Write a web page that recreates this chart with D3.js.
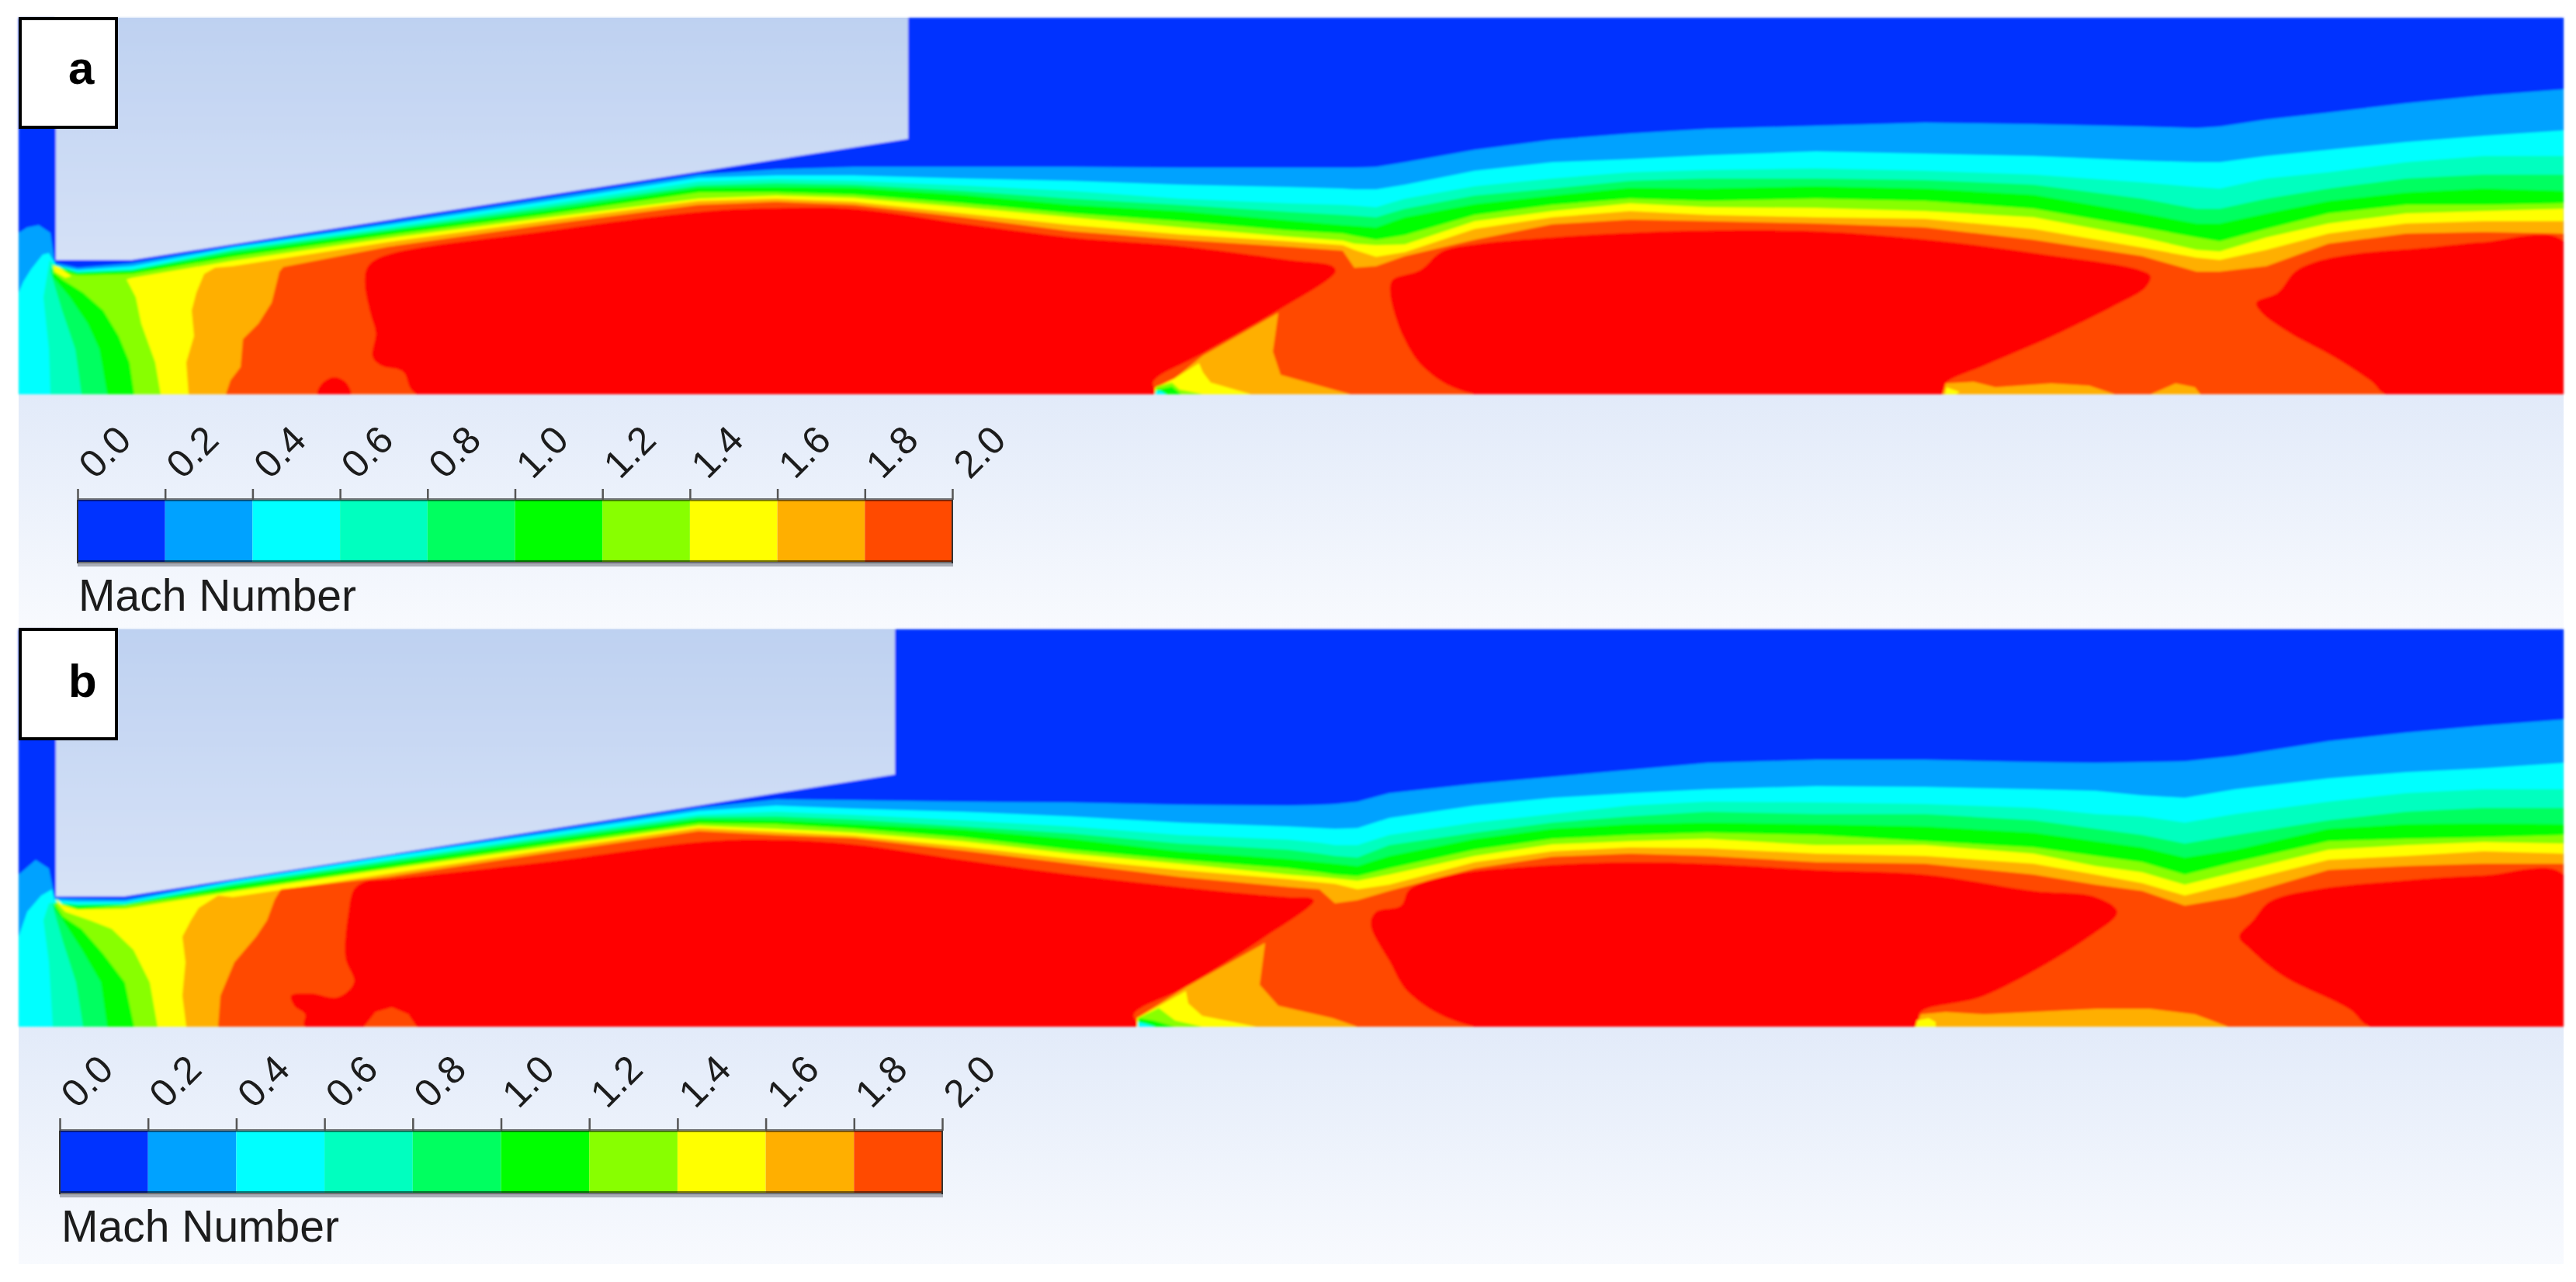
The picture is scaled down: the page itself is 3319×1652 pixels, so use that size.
<!DOCTYPE html>
<html>
<head>
<meta charset="utf-8">
<script src="https://cdn.jsdelivr.net/npm/d3@7"></script>
<style>html,body{margin:0;padding:0;background:#fff}svg{display:block}</style>
</head>
<body>
<div id="chart"></div>
<script>
// Legend
const machTicks = [0.0,0.2,0.4,0.6,0.8,1.0,1.2,1.4,1.6,1.8,2.0];
const machLevels = [0.0,0.2,0.4,0.6,0.8,1.0,1.2,1.4,1.6,1.8];
const machColors = ["#0033ff","#00a2ff","#00ffff","#00ffbf","#00ff60","#00ff00","#88ff00","#ffff00","#ffaf00","#ff4a00"];
const machTop = "#ff0000";
const legendTitle = "Mach Number";

// ---- Case a: contours read in grid units of the field ----
const stationsA = [100,170,300,500,700,900,1000,1100,1240,1380,1520,1660,1730,1745,1773,1810,1900,2000,2100,2200,2340,2480,2620,2760,2830,2860,2920,3000,3100,3200,3303];
const shearA02 = [345,339,317,287,256,225,218,215,215,215,216,216,216,216,215,209,193,180,172,166,162,158,160,163,165,163,154,145,133,123,115];
const shearA04 = [348,343,319,290,260,229,226,226,230,233,238,241,243,244,244,238,220,209,205,200,195,198,201,207,209,209,201,193,183,175,168];
const shearA06 = [350,347,321,293,264,234,231,233,239,246,256,262,264,265,267,256,240,230,222,219,217,220,225,235,241,243,230,222,209,201,201];
const shearA08 = [351,348,323,296,268,239,236,238,246,256,264,273,277,278,280,269,252,243,233,230,230,232,238,256,269,269,256,243,230,225,225];
const shearA10 = [352,349,326,298,272,242,241,242,251,264,272,284,290,291,293,280,263,252,242,243,240,243,251,275,288,288,275,259,248,243,246];
const shearA12 = [355,353,331,303,277,248,248,251,262,275,285,297,301,304,309,303,277,264,256,259,256,259,269,293,306,311,295,275,264,264,262];
const shearA14 = [358,358,336,307,281,256,252,255,267,280,293,305,310,314,316,315,285,272,262,267,268,272,280,306,322,324,306,288,275,272,269];
const shearA16 = [360,360,343,312,285,259,256,260,275,290,302,311,316,322,331,325,295,280,272,277,280,282,295,319,332,335,322,301,288,285,285];
const shearA18 = [362,362,350,318,290,264,260,264,280,298,309,318,323,345,343,330,309,289,283,285,288,293,309,330,350,350,343,314,301,299,301];
const innerA02 = [[24,508],[24,300],[35,293],[50,290],[65,300],[70,335],[72,339]];
const innerA04 = [[24,508],[24,377],[30,363],[40,347],[55,328],[63,326],[70,338],[72,342]];
const innerA06 = [[65,508],[63,450],[56,383],[64,335],[70,342]];
const innerA08 = [[105,508],[97,450],[80,400],[65,350],[68,340],[75,343]];
const innerA10 = [[138,508],[128,450],[113,417],[90,383],[68,357],[68,347],[78,346]];
const innerA12 = [[173,508],[167,467],[153,433],[133,400],[107,377],[80,360],[68,350],[80,350]];
const innerA14 = [[207,508],[200,467],[182,417],[175,383],[163,360]];
const innerA16 = [[243,508],[240,467],[250,433],[247,400],[253,377],[263,353],[277,345]];
const innerA18 = [[291,508],[297,490],[310,473],[313,437],[333,417],[350,390],[360,350],[365,344]];
const lobesA = [
 [[473,345],[491,331],[701,298],[912,272],[1000,268],[1100,269],[1240,288],[1380,306],[1521,317],[1661,335],[1717,343],[1721,350],[1647,400],[1549,456],[1486,492],[1488,508],[537,508],[519,479],[491,471],[480,460],[484,429],[477,403],[470,366]],
 [[1900,508],[1837,476],[1808,434],[1791,377],[1794,361],[1830,348],[1858,324],[1907,314],[2000,306],[2100,300],[2200,297],[2340,298],[2485,309],[2628,327],[2757,348],[2771,356],[2764,371],[2728,392],[2643,434],[2557,471],[2507,494],[2503,508]],
 [[3074,508],[3056,492],[3007,460],[2950,429],[2914,403],[2907,390],[2935,377],[2957,350],[2985,337],[3035,327],[3128,319],[3200,312],[3303,311],[3303,508]],
 [[409,508],[415,494],[430,486],[445,492],[452,508]]
];
const patchesA = [
 {level:1.6,pts:[[1647,403],[1550,458],[1513,488],[1488,500],[1488,508],[1740,508],[1700,497],[1650,483],[1640,453]]},
 {level:1.4,pts:[[1545,468],[1513,488],[1488,500],[1488,508],[1612,508],[1560,493],[1550,480]]},
 {level:1.2,pts:[[1510,493],[1490,498],[1488,508],[1550,508],[1520,502]]},
 {level:1.0,pts:[[1490,502],[1488,508],[1522,508],[1510,498]]},
 {level:0.4,pts:[[1490,504],[1488,508],[1503,508],[1496,504]]},
 {level:1.6,pts:[[2503,508],[2507,494],[2543,492],[2571,499],[2643,494],[2692,497],[2725,508]]},
 {level:1.6,pts:[[2771,508],[2803,494],[2828,499],[2835,508]]},
 {level:1.4,pts:[[2508,499],[2525,505],[2520,508],[2506,508]]},
 {level:1.4,pts:[[68,342],[76,344],[92,356],[84,358],[70,350]]}
];
const nozzleA = [[72,23],[1170,23],[1170,179],[170,335],[72,335]];

// ---- Case b ----
const stationsB = [100,161,300,500,700,900,1000,1100,1240,1380,1520,1660,1700,1720,1749,1790,1900,2000,2100,2200,2340,2480,2620,2700,2760,2815,2880,3000,3100,3200,3303];
const shearB02 = [1158,1159,1134,1102,1072,1041,1030,1031,1033,1034,1037,1038,1037,1036,1033,1022,1010,1001,992,983,979,979,982,983,982,981,974,955,944,935,927];
const shearB04 = [1162,1162,1136,1104,1075,1045,1038,1042,1046,1052,1060,1065,1067,1068,1067,1054,1038,1028,1022,1017,1013,1014,1017,1019,1025,1028,1017,1003,995,990,983];
const shearB06 = [1165,1164,1138,1108,1078,1050,1046,1050,1057,1065,1076,1082,1086,1089,1089,1076,1060,1049,1038,1033,1034,1036,1041,1049,1052,1060,1049,1033,1022,1017,1017];
const shearB08 = [1166,1165,1140,1110,1081,1053,1052,1056,1065,1074,1087,1095,1100,1103,1105,1089,1073,1060,1052,1046,1049,1049,1057,1068,1076,1087,1076,1057,1046,1041,1041];
const shearB10 = [1168,1166,1142,1113,1084,1056,1057,1062,1069,1081,1097,1107,1111,1113,1116,1103,1081,1068,1062,1060,1062,1065,1073,1084,1092,1105,1095,1068,1062,1061,1062];
const shearB12 = [1172,1167,1147,1118,1089,1061,1062,1068,1079,1095,1108,1119,1124,1127,1129,1119,1095,1081,1076,1073,1076,1084,1092,1103,1111,1127,1111,1084,1081,1079,1076];
const shearB14 = [1172,1171,1149,1120,1092,1064,1068,1073,1084,1100,1113,1127,1130,1132,1135,1127,1103,1088,1084,1081,1089,1089,1100,1116,1124,1140,1124,1095,1089,1085,1087];
const shearB16 = [1174,1174,1156,1126,1096,1067,1072,1077,1091,1107,1121,1133,1137,1139,1146,1140,1111,1097,1092,1093,1100,1103,1113,1127,1138,1154,1138,1108,1103,1097,1100];
const shearB18 = [1176,1176,1160,1130,1100,1071,1076,1080,1096,1113,1130,1143,1146,1164,1160,1148,1119,1104,1100,1103,1111,1113,1127,1140,1148,1167,1156,1121,1116,1113,1113];
const innerB02 = [[24,1323],[24,1127],[46,1108],[63,1119],[70,1154],[72,1157]];
const innerB04 = [[24,1323],[24,1207],[35,1175],[53,1154],[67,1146],[70,1159],[74,1160]];
const innerB06 = [[68,1323],[63,1240],[56,1186],[63,1164],[72,1163]];
const innerB08 = [[107,1323],[98,1266],[81,1213],[70,1175],[68,1165],[76,1164]];
const innerB10 = [[138,1323],[130,1266],[105,1223],[81,1186],[70,1170],[70,1163],[80,1165]];
const innerB12 = [[173,1323],[161,1266],[133,1229],[105,1197],[81,1181],[70,1164],[80,1167]];
const innerB14 = [[203,1323],[193,1266],[172,1224],[144,1197],[116,1186],[84,1175],[74,1164],[72,1157],[80,1166]];
const innerB16 = [[240,1323],[235,1283],[239,1240],[235,1207],[246,1186],[256,1170],[281,1154]];
const innerB18 = [[281,1323],[284,1283],[302,1240],[330,1207],[344,1186],[354,1159],[362,1146]];
const lobesB = [
 [[456,1146],[470,1136],[500,1133],[700,1111],[912,1084],[1000,1082],[1100,1088],[1240,1108],[1380,1127],[1520,1143],[1660,1156],[1688,1157],[1693,1161],[1626,1210],[1528,1272],[1461,1307],[1465,1323],[393,1323],[393,1307],[379,1296],[375,1283],[400,1280],[435,1285],[456,1266],[445,1234],[449,1175]],
 [[1900,1323],[1816,1280],[1791,1240],[1766,1191],[1773,1175],[1805,1167],[1816,1146],[1872,1127],[1977,1116],[2100,1111],[2200,1113],[2340,1121],[2480,1127],[2620,1148],[2700,1156],[2728,1175],[2692,1207],[2557,1283],[2475,1304],[2468,1323]],
 [[3054,1323],[3028,1301],[2942,1258],[2899,1223],[2885,1207],[2903,1186],[2924,1162],[2985,1146],[3092,1135],[3200,1128],[3303,1127],[3303,1323]]
];
const patchesB = [
 {level:1.8,pts:[[469,1323],[484,1304],[505,1298],[526,1307],[537,1323]]},
 {level:1.6,pts:[[1630,1215],[1528,1272],[1465,1312],[1465,1323],[1749,1323],[1717,1312],[1647,1296],[1623,1269]]},
 {level:1.4,pts:[[1528,1277],[1465,1312],[1465,1323],[1619,1323],[1549,1309],[1531,1293]]},
 {level:1.2,pts:[[1493,1299],[1466,1312],[1466,1323],[1549,1323],[1514,1315]]},
 {level:1.0,pts:[[1468,1312],[1466,1323],[1514,1323],[1486,1315]]},
 {level:0.4,pts:[[1466,1317],[1466,1323],[1489,1323],[1475,1319]]},
 {level:1.6,pts:[[2468,1323],[2475,1307],[2507,1304],[2557,1307],[2700,1300],[2771,1300],[2828,1307],[2871,1323]]},
 {level:1.4,pts:[[2470,1315],[2485,1312],[2494,1317],[2494,1323],[2468,1323]]}
];
const nozzleB = [[72,811],[1153,811],[1153,998],[161,1155],[72,1155]];

const shearSetA = [shearA02,shearA04,shearA06,shearA08,shearA10,shearA12,shearA14,shearA16,shearA18];
const innerSetA = [innerA02,innerA04,innerA06,innerA08,innerA10,innerA12,innerA14,innerA16,innerA18];
const shearSetB = [shearB02,shearB04,shearB06,shearB08,shearB10,shearB12,shearB14,shearB16,shearB18];
const innerSetB = [innerB02,innerB04,innerB06,innerB08,innerB10,innerB12,innerB14,innerB16,innerB18];

const W = 3319, H = 1652;
const svg = d3.select("#chart").append("svg").attr("width",W).attr("height",H).attr("viewBox",[0,0,W,H]);
const defs = svg.append("defs");
defs.append("filter").attr("id","soft").attr("x","-2%").attr("y","-5%").attr("width","104%").attr("height","110%")
  .append("feGaussianBlur").attr("stdDeviation",1.5);

const colorOf = d3.scaleOrdinal().domain(machLevels).range(machColors);
const FONT = "'Liberation Sans', Arial, sans-serif";

function drawPanel(p){
  const x = d3.scaleLinear().domain(p.gridX).range(p.fieldX);
  const y = d3.scaleLinear().domain(p.gridY).range(p.fieldY);
  const line = d3.line().x(d=>x(d[0])).y(d=>y(d[1]));
  const smooth = d3.line().x(d=>x(d[0])).y(d=>y(d[1])).curve(d3.curveCatmullRomClosed.alpha(0.5));
  const g = svg.append("g");

  const grad = defs.append("linearGradient").attr("id","bg"+p.name)
    .attr("gradientUnits","userSpaceOnUse").attr("x1",0).attr("x2",0).attr("y1",p.bgY[0]).attr("y2",p.bgY[1]);
  grad.append("stop").attr("offset",0).attr("stop-color","#bed1f1");
  grad.append("stop").attr("offset",1).attr("stop-color","#f8fafe");

  g.append("rect").attr("x",p.fieldX[0]).attr("y",p.bgY[0]).attr("width",p.fieldX[1]-p.fieldX[0]).attr("height",p.bgY[1]-p.bgY[0])
    .attr("fill",`url(#bg${p.name})`);

  const clipId = "clip"+p.name;
  defs.append("clipPath").attr("id",clipId).append("rect").attr("x",p.fieldX[0]).attr("y",p.fieldY[0])
    .attr("width",p.fieldX[1]-p.fieldX[0]).attr("height",p.fieldY[1]-p.fieldY[0]);
  const field = g.append("g").attr("filter","url(#soft)").append("g").attr("clip-path",`url(#${clipId})`);
  field.append("rect").attr("x",x(p.gridX[0])).attr("y",y(p.gridY[0]))
    .attr("width",x(p.gridX[1])-x(p.gridX[0])).attr("height",y(p.gridY[1])-y(p.gridY[0])).attr("fill",machColors[0]);

  // one closed contour per Mach level, painted from low to high
  p.shear.forEach((vals,i)=>{
    const inner = p.inner[i];
    const lastX = inner[inner.length-1][0];
    const tail = p.stations.map((s,k)=>[s,vals[k]]).filter(d=>d[0]>lastX);
    const pts = inner.concat(tail,[[p.gridX[1],p.gridY[1]]]);
    field.append("path").attr("d",line(pts)+"Z").attr("fill",machColors[i+1]);
  });
  field.selectAll("path.lobe").data(p.lobes).join("path").attr("class","lobe")
    .attr("d",d=>smooth(d)).attr("fill",machTop);
  field.selectAll("path.patch").data(p.patches).join("path").attr("class","patch")
    .attr("d",d=>line(d.pts)+"Z").attr("fill",d=>colorOf(d.level));
  field.append("path").attr("d",line(p.nozzle)+"Z").attr("fill",`url(#bg${p.name})`);

  // colour legend
  const lx = d3.scaleLinear().domain([0,2]).range(p.legendX);
  const step = 0.2;
  g.selectAll("rect.key").data(machLevels).join("rect").attr("class","key")
    .attr("x",d=>lx(d)).attr("y",p.legendY[0]).attr("width",d=>lx(d+step)-lx(d)).attr("height",p.legendY[1]-p.legendY[0])
    .attr("fill",d=>colorOf(d));
  g.append("rect").attr("x",p.legendX[0]).attr("y",p.legendY[1]+2).attr("width",p.legendX[1]-p.legendX[0]+1).attr("height",4).attr("fill","#8a8f99").attr("opacity",0.7);
  g.append("line").attr("x1",p.legendX[0]).attr("x2",p.legendX[1]).attr("y1",p.legendY[0]).attr("y2",p.legendY[0]).attr("stroke","#000").attr("stroke-opacity",0.5).attr("stroke-width",4);
  g.append("line").attr("x1",p.legendX[0]).attr("x2",p.legendX[1]).attr("y1",p.legendY[1]).attr("y2",p.legendY[1]).attr("stroke","#000").attr("stroke-opacity",0.55).attr("stroke-width",4);
  g.append("line").attr("x1",p.legendX[0]).attr("x2",p.legendX[0]).attr("y1",p.legendY[0]).attr("y2",p.legendY[1]+2).attr("stroke","#333").attr("stroke-width",2);
  g.append("line").attr("x1",p.legendX[1]).attr("x2",p.legendX[1]).attr("y1",p.legendY[0]).attr("y2",p.legendY[1]+2).attr("stroke","#333").attr("stroke-width",2);

  const axis = d3.axisTop(lx).tickValues(machTicks).tickFormat(d3.format(".1f")).tickSize(p.tickLen).tickSizeOuter(0);
  const ax = g.append("g").attr("transform",`translate(0,${p.legendY[0]})`).call(axis);
  ax.select(".domain").remove();
  ax.selectAll(".tick line").attr("stroke","#555").attr("stroke-width",2.5);
  ax.selectAll(".tick text")
    .attr("font-family",FONT).attr("font-size",50).attr("fill","#1c1c1c")
    .attr("text-anchor","start").attr("x",0).attr("y",0).attr("dy",0)
    .attr("transform",`translate(22,${-p.tickLabelGap}) rotate(-45)`);

  g.append("text").attr("x",p.titleX).attr("y",p.legendY[1]+63)
    .attr("font-family",FONT).attr("font-size",57).attr("fill","#1c1c1c").text(legendTitle);

  // panel letter
  g.append("rect").attr("x",p.box[0]).attr("y",p.box[1]).attr("width",p.box[2]).attr("height",p.box[3])
    .attr("fill","#fff").attr("stroke","#000").attr("stroke-width",4);
  g.append("text").attr("x",p.box[0]+62).attr("y",p.letterY)
    .attr("font-family",FONT).attr("font-weight","bold").attr("font-size",60).attr("fill","#000").text(p.name);
}

drawPanel({name:"a",gridX:[24,3303],gridY:[23,508],fieldX:[24,3303],fieldY:[23,508],bgY:[23,811],
  stations:stationsA,shear:shearSetA,inner:innerSetA,lobes:lobesA,patches:patchesA,nozzle:nozzleA,
  legendX:[100,1227],legendY:[644,724],tickLen:14,tickLabelGap:25,titleX:101,box:[26,24,124,140],letterY:108});
drawPanel({name:"b",gridX:[24,3303],gridY:[811,1323],fieldX:[24,3303],fieldY:[811,1323],bgY:[811,1629],
  stations:stationsB,shear:shearSetB,inner:innerSetB,lobes:lobesB,patches:patchesB,nozzle:nozzleB,
  legendX:[77,1214],legendY:[1457,1537],tickLen:16,tickLabelGap:27,titleX:79,box:[26,811,124,141],letterY:898});
</script>
</body>
</html>
